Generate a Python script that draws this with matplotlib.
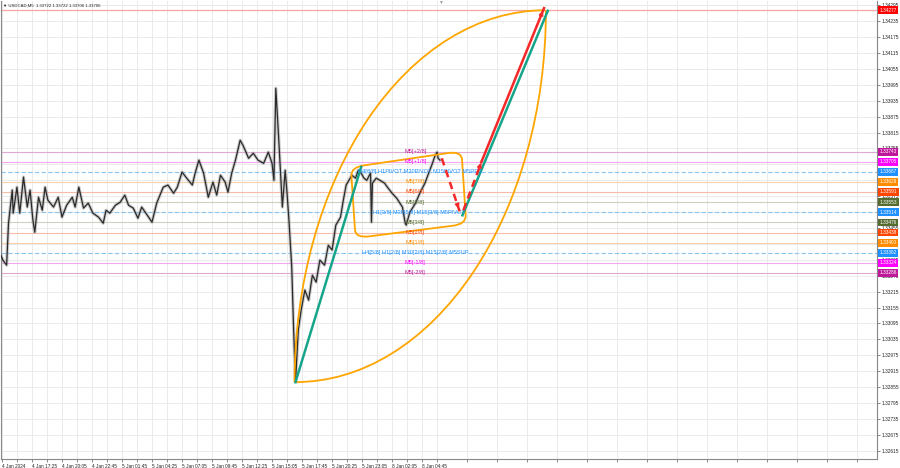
import numpy as np
import matplotlib
matplotlib.use("Agg")
import matplotlib.pyplot as plt
from matplotlib.patches import Arc, PathPatch
from matplotlib.path import Path
from matplotlib.transforms import blended_transform_factory

plt.rcParams["font.family"] = ["Liberation Sans", "DejaVu Sans"]

# M5 bars (bar index, close)
bar_idx = [0, 3, 7, 9, 13, 14, 18, 21, 25, 29, 32, 35, 37, 41, 45, 48, 51, 57, 62, 66,
           71, 77, 80, 84, 89, 94, 99, 105, 110, 113, 117, 123, 128, 133, 137, 142, 147, 151, 157, 162,
           167, 174, 179, 185, 189, 194, 199, 205, 208, 212, 217, 222, 227, 231, 235, 240, 243, 247, 251, 256,
           259, 265, 270, 275, 281, 286, 290, 292, 294, 297, 301, 304, 306, 308, 311, 313, 315,
           318, 321, 325, 329, 333, 337, 341, 346, 350, 354, 358, 363, 366, 369, 372, 375, 379, 382,
           385, 388, 391, 395, 396, 397, 401, 405, 410, 413, 418, 423, 429, 432, 433, 437, 443, 448, 453,
           457, 461, 464, 466, 467, 469]
closes = [1.33360, 1.33334, 1.33315, 1.33473, 1.33598, 1.33511, 1.33609, 1.33511, 1.33647, 1.33534,
          1.33598, 1.33485, 1.33439, 1.33571, 1.33522, 1.33609, 1.33560, 1.33534, 1.33571, 1.33496,
          1.33541, 1.33571, 1.33534, 1.33609, 1.33530, 1.33549, 1.33511, 1.33496, 1.33473, 1.33522,
          1.33511, 1.33541, 1.33552, 1.33579, 1.33541, 1.33530, 1.33492, 1.33534, 1.33503, 1.33477,
          1.33549, 1.33609, 1.33617, 1.33586, 1.33609, 1.33666, 1.33643, 1.33617, 1.33662, 1.33711,
          1.33662, 1.33571, 1.33628, 1.33579, 1.33654, 1.33628, 1.33590, 1.33662, 1.33711, 1.33786,
          1.33767, 1.33718, 1.33737, 1.33711, 1.33699, 1.33741, 1.33699, 1.33635, 1.33982, 1.33798,
          1.33534, 1.33673, 1.33586, 1.33485, 1.33307, 1.33070, 1.32874,
          1.33070, 1.33145, 1.33221, 1.33183, 1.33277, 1.33251, 1.33334, 1.33315, 1.33390, 1.33372,
          1.33466, 1.33496, 1.33560, 1.33617, 1.33635, 1.33654, 1.33643, 1.33673, 1.33662, 1.33643,
          1.33635, 1.33662, 1.33477, 1.33624, 1.33643, 1.33635, 1.33624, 1.33609, 1.33586, 1.33567,
          1.33534, 1.33473, 1.33466, 1.33515, 1.33549, 1.33590, 1.33624, 1.33662, 1.33699, 1.33730,
          1.33741, 1.33718, 1.33711]

time_labels = ["4 Jan 2024", "4 Jan 17:25", "4 Jan 20:05", "4 Jan 22:45", "5 Jan 01:45",
               "5 Jan 04:25", "5 Jan 07:05", "5 Jan 09:45", "5 Jan 12:25", "5 Jan 15:05",
               "5 Jan 17:45", "5 Jan 20:25", "5 Jan 23:05", "8 Jan 02:05", "8 Jan 04:45"]

level_prices = [1.33743, 1.33705, 1.33667, 1.33629, 1.33591, 1.33553, 1.33514,
                1.33476, 1.33438, 1.33400, 1.33362, 1.33324, 1.33286]
level_labels = ["M5[+2/8]", "M5[+1/8]", "H4[8/8] H1PIVOT M30PIVOT M15PIVOT M5RES",
                "M5[7/8]", "M5[6/8]", "M5[5/8]", "H1[3/8] M30[5/8] M15[3/8] M5PIVOT",
                "M5[3/8]", "M5[2/8]", "M5[1/8]", "H4[5/8] H1[2/8] M30[2/8] M15[2/8] M5SUP",
                "M5[-1/8]", "M5[-2/8]"]
level_label_x = [431, 431, 382, 432, 432, 432, 398, 432, 432, 432, 386, 431, 431]
level_colors = ["#C0189A", "#FF00FF", "#1E90FF", "#FF8C00", "#FF4500", "#556B2F", "#1E90FF",
                "#556B2F", "#FF4500", "#FF8C00", "#1E90FF", "#FF00FF", "#C0189A"]
level_line_colors = ["#E2A8D4", "#F2A8F2", "#8CC4F0", "#F9D2A8", "#F6BCA8", "#CCD2C0", "#8CC4F0",
                     "#CCD2C0", "#F6BCA8", "#F9D2A8", "#8CC4F0", "#F2A8F2", "#E2A8D4"]
level_dashed = [False, False, True, False, False, False, True, False, False, False, True, False, False]

target_price = 1.34277
title_text = "USDCAD,M5  1.33722 1.33722 1.33706 1.33706"

# projection drawing: (bar, price)
pt_a = (315, 1.32874)
pt_b = (385, 1.33685)
pt_c = (493, 1.33503)
pt_d = (584, 1.34274)
red_dash1 = [(471, 1.33718), (490, 1.33518)]
red_dash2 = [(494, 1.33522), (514, 1.33711)]
red_solid = [(514, 1.33711), (580, 1.34284)]
box_corners = [(374, 1.33684), (492, 1.33745), (497, 1.33470), (379, 1.33417)]
arc_left_center = (581, 1.32874)
arc_right_center = (315, 1.34276)
arc_w, arc_h = 2 * 267, 2 * 0.01402

FS = 3.4

fig = plt.figure(figsize=(9, 4.68), dpi=100)
ax = fig.add_axes([1 / 900, 9 / 468, 876 / 900, 458 / 468])
ax.set_xlim(1, 935)
ax.set_ylim(1.32584, 1.34311)
ax.set_facecolor("white")

yt = np.round(np.arange(1.32615, 1.34296, 0.0006), 5)
ax.set_yticks(yt)
ax.set_yticklabels([f"{v:.5f}" for v in yt])
ax.yaxis.tick_right()
ax.tick_params(axis="y", labelsize=FS, length=2, pad=1.5, colors="#555555", width=0.5)
xt = [2 + 32 * i for i in range(len(time_labels))]
ax.set_xticks(xt)
ax.set_xticklabels(time_labels, ha="left")
ax.set_xticks(np.arange(18, 935, 32), minor=True)
ax.tick_params(axis="x", which="both", labelsize=FS, length=2, pad=1.5, colors="#555555", width=0.5)
for lab in ax.get_xticklabels() + ax.get_yticklabels():
    lab.set_color("#222222")
ax.grid(True, which="both", color="#E8E8E8", lw=0.6)
ax.set_axisbelow(True)
for side in ["left", "bottom", "right"]:
    ax.spines[side].set_color("#888888")
    ax.spines[side].set_linewidth(0.8)
ax.spines["top"].set_visible(False)

# level lines
for p, lc, d in zip(level_prices, level_line_colors, level_dashed):
    ax.axhline(p, color=lc, lw=0.8, ls=(0, (4, 2)) if d else "-", zorder=1)
ax.axhline(target_price, color="#F6A6A6", lw=0.9, zorder=1)

# price
ax.plot(bar_idx, closes, color="#9A9A9A", lw=2.4, alpha=0.5, zorder=2)
ax.plot(bar_idx, closes, color="#2A2A2A", lw=0.9, zorder=3)

# level labels inside chart
for p, lab, x, c in zip(level_prices, level_labels, level_label_x, level_colors):
    ax.text(x, p, lab, color=c, fontsize=4.1, va="center", ha="left", zorder=6)

# arcs
ax.add_patch(Arc(arc_left_center, arc_w, arc_h, theta1=90, theta2=180, color="#FFA500", lw=1.3, zorder=4))
ax.add_patch(Arc(arc_right_center, arc_w, arc_h, theta1=270, theta2=360, color="#FFA500", lw=1.3, zorder=4))

# rounded box
cs = np.array(box_corners)
verts, codes = [], []
n = len(cs)
for i in range(n):
    prev_c, cur, nxt = cs[i - 1], cs[i], cs[(i + 1) % n]
    p_in = cur + (prev_c - cur) * 0.12
    p_out = cur + (nxt - cur) * 0.12
    verts.append(p_in)
    codes.append(Path.MOVETO if i == 0 else Path.LINETO)
    verts += [cur, p_out]
    codes += [Path.CURVE3, Path.CURVE3]
verts.append(cs[0] + (cs[-1] - cs[0]) * 0.12)
codes.append(Path.LINETO)
ax.add_patch(PathPatch(Path(verts, codes), fill=False, edgecolor="#FFA500", lw=1.3, zorder=4))

# teal legs
teal = "#16A58A"
ax.plot([pt_a[0], pt_b[0]], [pt_a[1], pt_b[1]], color=teal, lw=1.8, zorder=5)
ax.plot([pt_c[0], pt_d[0]], [pt_c[1], pt_d[1]], color=teal, lw=1.8, zorder=5)

red = "#F42828"
def arrow_head(seg):
    (x0, y0), (x1, y1) = seg
    ax.annotate("", xy=(x1, y1), xytext=(x0 + (x1 - x0) * 0.85, y0 + (y1 - y0) * 0.85),
                arrowprops=dict(arrowstyle="-|>", color=red, lw=1.2, mutation_scale=6), zorder=7)

for seg in [red_dash1, red_dash2]:
    ax.plot([seg[0][0], seg[1][0]], [seg[0][1], seg[1][1]], color=red, lw=1.8, ls=(0, (3, 2)), zorder=6)
    arrow_head(seg)
ax.plot([red_solid[0][0], red_solid[1][0]], [red_solid[0][1], red_solid[1][1]], color=red, lw=1.8, zorder=6)
arrow_head(red_solid)

# right axis price tags
tr = blended_transform_factory(ax.transAxes, ax.transData)
tags = list(zip(level_prices, level_colors)) + [(target_price, "#FF0000")]
for p, c in tags:
    ax.text(1.003, p, f"{p:.5f}", transform=tr, fontsize=FS, color="white", va="center", ha="left",
            bbox=dict(boxstyle="square,pad=0.3", fc=c, ec="none"), zorder=10, clip_on=False)

fig.text(3 / 900, 1 - 6 / 468, "\u25bc " + title_text, fontsize=3.1, color="#222222", va="center", ha="left")
fig.text(440 / 900, 1 - 2 / 468, "\u25bc", fontsize=3.5, color="#999999", va="center", ha="center")

fig.savefig("out.png", dpi=100)
